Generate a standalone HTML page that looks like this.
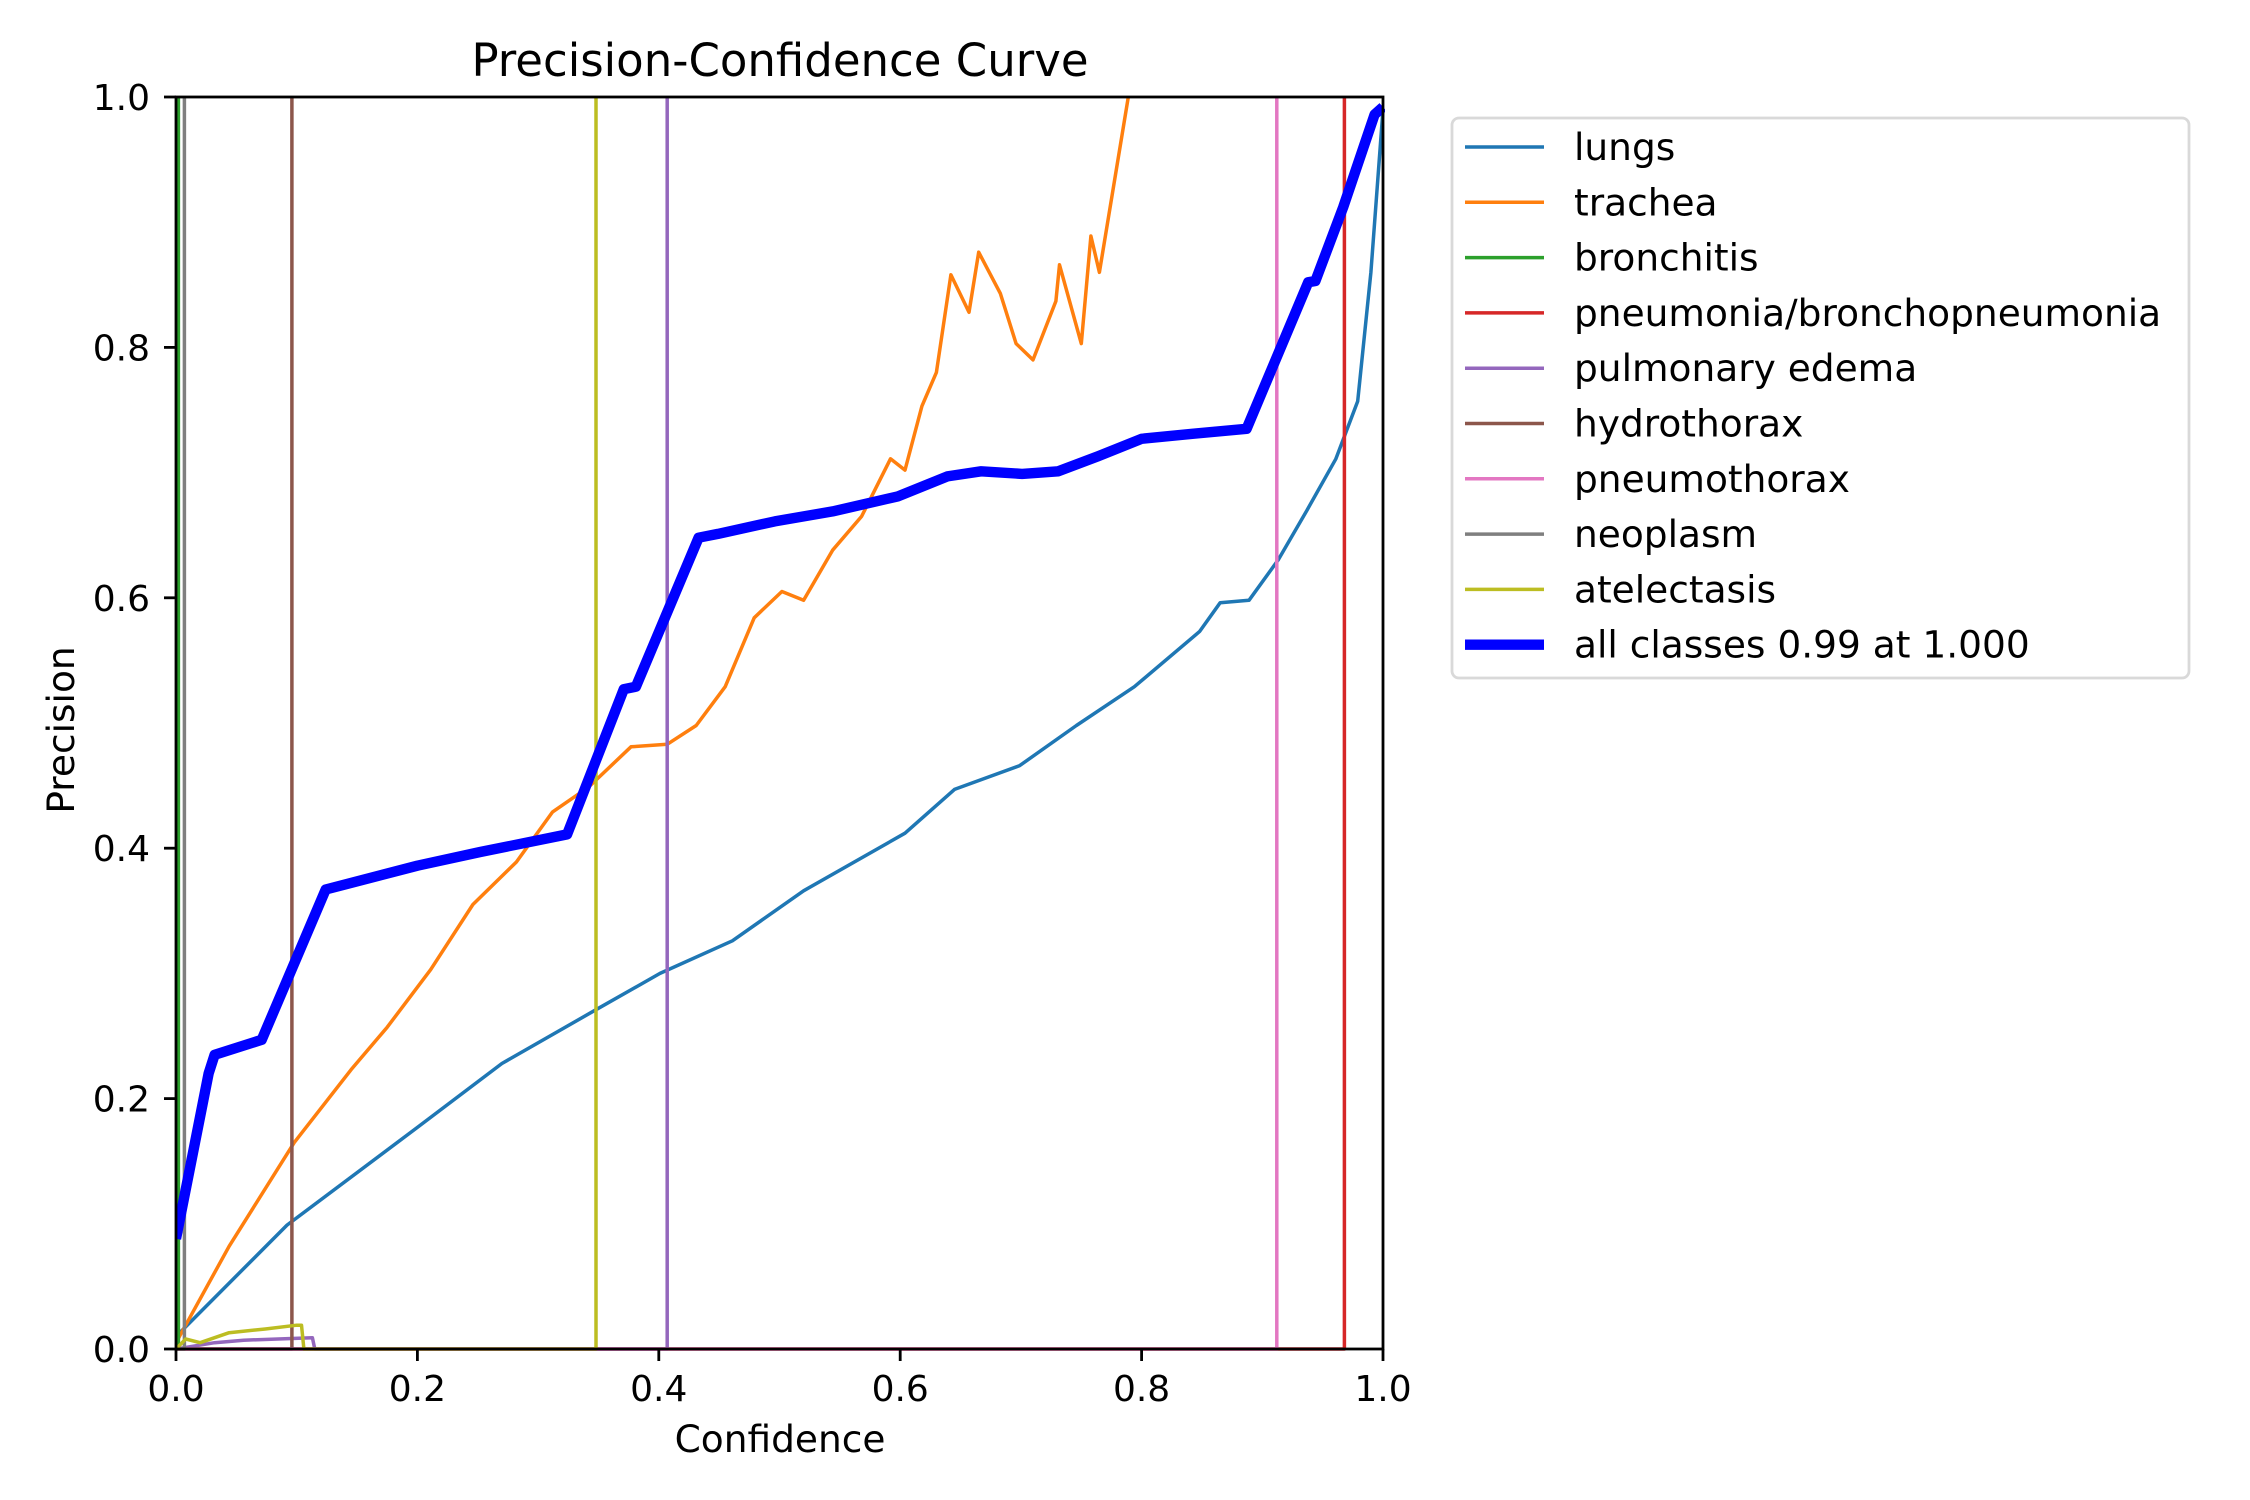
<!DOCTYPE html>
<html><head><meta charset="utf-8"><style>
html,body{margin:0;padding:0;background:#fff;}
svg{display:block;font-family:"DejaVu Sans","Liberation Sans",sans-serif;}
</style></head><body>
<svg id="chart" width="2250" height="1500" viewBox="0 0 2250 1500" xmlns="http://www.w3.org/2000/svg">
<rect width="2250" height="1500" fill="#fff"/>
<text x="780" y="76" font-size="45" text-anchor="middle">Precision-Confidence Curve</text>
<text x="780" y="1452" font-size="37.5" text-anchor="middle">Confidence</text>
<text x="74" y="730" font-size="37.5" text-anchor="middle" transform="rotate(-90 74 730)">Precision</text>
<g id="plot"></g>
<g id="axes"></g>
<g id="legend"></g>
</svg>
<script>
const xTicks = [0, 0.2, 0.4, 0.6, 0.8, 1.0];
const yTicks = [0, 0.2, 0.4, 0.6, 0.8, 1.0];
const tickLabels = ["0.0", "0.2", "0.4", "0.6", "0.8", "1.0"];
const classNames = ["lungs","trachea","bronchitis","pneumonia/bronchopneumonia","pulmonary edema","hydrothorax","pneumothorax","neoplasm","atelectasis"];
const classColors = ["#1f77b4","#ff7f0e","#2ca02c","#d62728","#9467bd","#8c564b","#e377c2","#7f7f7f","#bcbd22"];
const lungsConf = [0,0.092,0.2,0.27,0.348,0.401,0.461,0.52,0.604,0.645,0.699,0.746,0.794,0.848,0.865,0.889,0.913,0.937,0.961,0.979,0.99,1];
const lungsPrec = [0.01,0.099,0.177,0.228,0.271,0.3,0.326,0.366,0.412,0.447,0.466,0.498,0.529,0.573,0.596,0.598,0.63,0.67,0.711,0.757,0.86,0.99];
const tracheaConf = [0,0.044,0.098,0.145,0.175,0.211,0.246,0.282,0.312,0.342,0.377,0.407,0.431,0.455,0.479,0.502,0.52,0.544,0.568,0.592,0.604,0.618,0.63,0.642,0.657,0.665,0.683,0.696,0.71,0.729,0.732,0.75,0.758,0.765,0.789];
const tracheaPrec = [0.005,0.082,0.165,0.223,0.257,0.303,0.355,0.389,0.429,0.449,0.481,0.483,0.498,0.529,0.584,0.605,0.598,0.638,0.665,0.711,0.702,0.753,0.78,0.858,0.828,0.876,0.843,0.803,0.79,0.837,0.866,0.803,0.889,0.86,1.0];
const atelConf = [0,0.008,0.02,0.044,0.074,0.1,0.104,0.106,0.348,0.348];
const atelPrec = [0,0.008,0.005,0.013,0.016,0.019,0.019,0,0,1];
const edemaConf = [0,0.032,0.056,0.113,0.115,0.407,0.407];
const edemaPrec = [0,0.005,0.007,0.009,0,0,1];
const stepThresholds = {bronchitis:0.002, "pneumonia/bronchopneumonia":0.968, hydrothorax:0.096, pneumothorax:0.912, neoplasm:0.007};
const allConf = [0,0.027,0.032,0.071,0.124,0.2,0.252,0.324,0.371,0.381,0.433,0.449,0.496,0.544,0.598,0.639,0.667,0.701,0.731,0.764,0.8,0.842,0.887,0.938,0.944,0.967,0.993,1];
const allPrec = [0.088,0.22,0.235,0.247,0.367,0.386,0.397,0.411,0.527,0.529,0.648,0.651,0.661,0.669,0.681,0.697,0.701,0.699,0.701,0.713,0.727,0.731,0.735,0.852,0.853,0.912,0.986,0.992];

const X0=176, X1=1383, Y0=1349, Y1=97;
const sx = v => X0 + v*(X1-X0);
const sy = v => Y0 - v*(Y0-Y1);
const NS="http://www.w3.org/2000/svg";
const plot=document.getElementById('plot'), axes=document.getElementById('axes'), legend=document.getElementById('legend');
function mk(tag, attrs, parent){const e=document.createElementNS(NS,tag);for(const k in attrs)e.setAttribute(k,attrs[k]);parent.appendChild(e);return e;}
function line(xs, ys, color, w, name){
  const pts=xs.map((x,i)=>sx(x).toFixed(1)+','+sy(ys[i]).toFixed(1)).join(' ');
  const p=mk('polyline',{points:pts,fill:'none',stroke:color,'stroke-width':w,'stroke-linejoin':'round'},plot);
  
  
}
const clip=mk('clipPath',{id:'c'},document.getElementById('chart'));
mk('rect',{x:X0,y:Y1-2,width:X1-X0+2,height:Y0-Y1+4},clip);
plot.setAttribute('clip-path','url(#c)');
const seriesData = {lungs:[lungsConf,lungsPrec], trachea:[tracheaConf,tracheaPrec], "pulmonary edema":[edemaConf,edemaPrec], atelectasis:[atelConf,atelPrec]};
classNames.forEach((n,i)=>{
  let xs, ys;
  if(seriesData[n]){xs=seriesData[n][0]; ys=seriesData[n][1];}
  else {const t=stepThresholds[n]; xs=[0,t,t]; ys=[0,0,1];}
  line(xs, ys, classColors[i], 3.5, 'series-'+n.replace(/[^a-z]+/g,'-'));
});
line(allConf, allPrec, '#0000ff', 10.4, 'series-all-classes');
const sp=mk('rect',{x:X0,y:Y1,width:X1-X0,height:Y0-Y1,fill:'none',stroke:'#000','stroke-width':2.8},axes);


xTicks.forEach((v,i)=>{
  mk('line',{x1:sx(v),x2:sx(v),y1:Y0,y2:Y0+12,stroke:'#000','stroke-width':2.8},axes);
  const t=mk('text',{x:sx(v),y:Y0+52,'font-size':36,'text-anchor':'middle'},axes);
  t.textContent=tickLabels[i];
  
  
});
yTicks.forEach((v,i)=>{
  mk('line',{x1:X0-12,x2:X0,y1:sy(v),y2:sy(v),stroke:'#000','stroke-width':2.8},axes);
  const t=mk('text',{x:X0-26,y:sy(v)+13,'font-size':36,'text-anchor':'end'},axes);
  t.textContent=tickLabels[i];
  
  
});
const lb=mk('rect',{x:1452,y:118,width:737,height:560,rx:7,fill:'#fff',stroke:'#d9d9d9','stroke-width':2.8},legend);


const legendLabels = classNames.concat(['all classes 0.99 at 1.000']);
const legendColors = classColors.concat(['#0000ff']);
legendLabels.forEach((n,i)=>{
  const y=147+i*55.3;
  const g=mk('g',{},legend);
  
  
  mk('line',{x1:1465,x2:1544,y1:y,y2:y,stroke:legendColors[i],'stroke-width':i===9?10.4:3.5},g);
  const t=mk('text',{x:1574,y:y+13,'font-size':37.5},g);
  t.textContent=n;
});
</script>
</body></html>
